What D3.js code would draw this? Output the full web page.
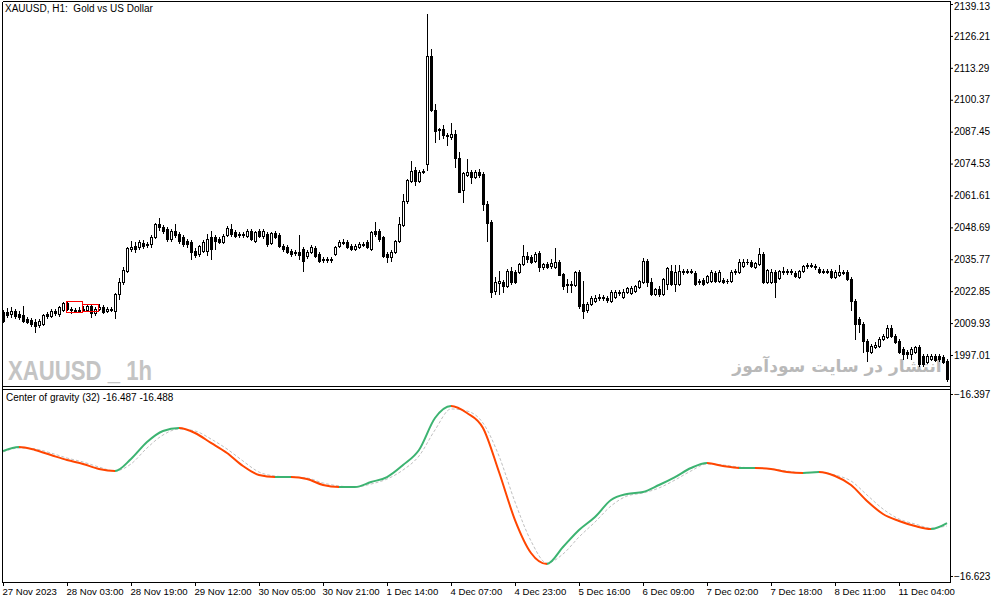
<!doctype html>
<html>
<head>
<meta charset="utf-8"/>
<title>XAUUSD, H1 - Center of gravity</title>
<script src="https://d3js.org/d3.v7.min.js"></script>
<style>
  body { margin:0; background:#fff; overflow:hidden; }
  svg text { font-family: "Liberation Sans", Arial, sans-serif; }
</style>
</head>
<body>
<div id="chart"></div>
<script>
// ---- data ----
var timeLabels = ["27 Nov 2023","28 Nov 03:00","28 Nov 19:00","29 Nov 12:00","30 Nov 05:00",
  "30 Nov 21:00","1 Dec 14:00","4 Dec 07:00","4 Dec 23:00","5 Dec 16:00","6 Dec 09:00",
  "7 Dec 02:00","7 Dec 18:00","8 Dec 11:00","11 Dec 04:00"];
var timeBars = [0,16,32,48,64,80,96,112,128,144,160,176,192,208,224];

var priceTicks = [2139.13,2126.21,2113.29,2100.37,2087.45,2074.53,2061.61,2048.69,2035.77,2022.85,2009.93,1997.01];
var cogTicks = [-16.397,-16.623];

// hourly candles: open, high, low, close
var candles = [
 [2014.4,2015.2,2010.3,2010.7],[2014.4,2016.0,2012.4,2013.2],[2013.6,2016.4,2012.4,2014.8],[2014.8,2015.6,2011.9,2012.8],
 [2013.6,2014.8,2011.5,2012.4],[2013.2,2016.8,2010.3,2010.7],[2011.5,2012.4,2009.9,2010.3],[2011.1,2012.0,2008.7,2009.5],
 [2010.3,2011.5,2006.3,2008.7],[2009.1,2011.5,2008.3,2010.7],[2009.5,2013.6,2009.1,2013.2],[2013.6,2014.4,2012.0,2012.8],
 [2012.8,2015.6,2012.4,2014.8],[2014.8,2015.6,2013.2,2014.0],[2013.6,2016.8,2012.8,2016.4],[2015.2,2018.4,2014.8,2018.0],
 [2018.0,2018.4,2015.2,2015.6],[2015.6,2016.4,2014.0,2015.2],[2015.2,2016.0,2014.4,2015.0],[2015.0,2016.4,2014.4,2015.2],
 [2015.2,2016.8,2014.8,2015.6],[2015.2,2017.6,2014.8,2016.8],[2016.8,2017.2,2012.4,2014.0],[2014.0,2016.4,2013.2,2015.6],
 [2015.6,2017.6,2015.2,2016.4],[2016.4,2017.2,2014.0,2014.4],[2015.0,2016.4,2014.4,2015.6],[2015.6,2016.4,2014.8,2015.2],
 [2014.8,2022.0,2011.9,2021.6],[2021.6,2028.0,2019.6,2026.5],[2026.5,2032.5,2025.7,2031.3],[2031.0,2040.6,2030.5,2040.2],
 [2040.0,2043.0,2039.0,2040.8],[2041.0,2042.6,2038.6,2039.8],[2040.6,2043.4,2039.8,2042.6],[2042.2,2043.4,2040.2,2041.0],
 [2041.6,2042.6,2040.6,2041.8],[2041.8,2045.4,2040.6,2044.6],[2044.6,2050.3,2044.2,2049.9],[2049.9,2052.3,2047.5,2048.7],
 [2048.7,2049.5,2046.3,2047.1],[2047.9,2048.7,2043.0,2043.8],[2043.8,2047.9,2043.0,2047.1],[2047.1,2049.9,2044.6,2045.5],
 [2045.9,2046.7,2042.2,2043.0],[2044.6,2045.5,2041.0,2041.8],[2043.0,2043.8,2040.6,2041.8],[2042.6,2043.4,2035.8,2038.6],
 [2039.0,2040.2,2036.6,2037.4],[2037.8,2041.4,2037.0,2041.0],[2039.0,2043.4,2038.6,2042.6],[2039.0,2045.9,2037.4,2043.8],
 [2044.6,2047.1,2035.8,2039.8],[2044.6,2045.5,2039.8,2043.0],[2043.8,2044.6,2042.2,2042.6],[2042.6,2045.9,2042.2,2045.1],
 [2045.5,2049.1,2045.1,2048.3],[2047.9,2049.9,2045.1,2045.9],[2046.7,2047.5,2044.6,2045.1],[2045.5,2046.7,2044.6,2045.9],
 [2045.9,2046.7,2044.6,2045.5],[2045.1,2047.9,2044.6,2047.1],[2047.1,2047.9,2043.4,2043.8],[2043.0,2047.1,2042.6,2046.7],
 [2047.1,2047.9,2044.6,2045.1],[2045.1,2047.9,2044.2,2047.1],[2045.9,2046.7,2041.0,2041.8],[2042.2,2046.7,2041.8,2046.3],
 [2046.3,2047.1,2044.2,2044.6],[2045.5,2046.3,2040.6,2041.0],[2041.0,2041.8,2039.0,2039.8],[2040.6,2041.4,2038.2,2038.6],
 [2039.0,2039.8,2037.0,2037.8],[2038.2,2039.4,2037.4,2038.6],[2038.6,2045.5,2035.8,2037.4],[2039.8,2040.6,2030.9,2035.0],
 [2037.0,2039.4,2036.2,2038.6],[2038.6,2041.4,2038.2,2040.6],[2040.2,2041.0,2036.6,2037.0],[2037.8,2038.6,2034.6,2035.0],
 [2035.4,2036.6,2034.6,2035.8],[2035.8,2036.6,2034.6,2035.4],[2035.4,2036.6,2034.6,2035.8],[2037.8,2041.0,2037.4,2040.6],
 [2041.0,2043.4,2040.6,2042.6],[2042.6,2043.8,2041.8,2042.2],[2042.6,2043.4,2040.2,2040.6],[2041.0,2041.8,2039.4,2039.8],
 [2039.8,2041.8,2039.4,2041.0],[2040.6,2042.6,2040.2,2041.8],[2041.8,2042.6,2041.0,2041.4],[2042.6,2043.4,2040.2,2040.6],
 [2039.8,2047.1,2039.4,2046.7],[2047.1,2050.7,2045.1,2045.9],[2047.1,2047.9,2043.0,2043.8],[2044.6,2045.1,2036.6,2037.0],
 [2037.8,2038.6,2034.6,2036.6],[2036.6,2039.4,2035.0,2038.6],[2038.6,2043.4,2038.2,2043.0],[2043.0,2052.7,2042.6,2049.9],
 [2049.5,2062.0,2049.1,2059.2],[2059.2,2068.1,2058.4,2067.7],[2067.3,2075.7,2066.9,2071.7],[2072.1,2073.3,2066.0,2067.3],
 [2067.3,2072.1,2066.9,2071.3],[2071.3,2072.5,2070.5,2071.7],[2074.5,2135.1,2072.1,2118.1],[2118.1,2121.0,2095.9,2096.3],
 [2096.3,2098.8,2083.4,2087.9],[2088.3,2089.1,2084.6,2088.7],[2088.7,2090.3,2085.0,2086.2],[2086.2,2087.0,2082.2,2085.8],
 [2085.4,2091.1,2084.6,2086.6],[2086.6,2088.2,2073.3,2076.9],[2076.9,2079.4,2063.0,2063.2],[2064.0,2071.3,2058.8,2070.9],
 [2069.7,2076.5,2069.3,2071.3],[2071.3,2072.1,2066.8,2068.9],[2068.9,2072.1,2068.5,2071.3],[2071.3,2072.5,2068.9,2069.7],
 [2070.1,2071.3,2055.9,2058.0],[2058.0,2059.2,2043.0,2050.3],[2050.7,2051.5,2020.4,2022.4],[2022.8,2028.5,2021.6,2026.5],
 [2026.1,2030.9,2021.6,2026.9],[2026.5,2027.3,2022.4,2024.9],[2024.9,2031.7,2024.5,2030.9],[2030.9,2032.5,2025.7,2026.5],
 [2030.5,2031.3,2026.1,2026.5],[2030.5,2034.2,2030.1,2033.8],[2033.8,2041.4,2033.4,2037.0],[2037.0,2038.6,2034.6,2035.8],
 [2036.6,2037.4,2034.2,2034.6],[2035.0,2038.6,2034.6,2037.8],[2038.2,2039.0,2031.0,2032.5],[2032.5,2034.2,2031.7,2033.8],
 [2033.8,2034.6,2032.1,2032.5],[2032.9,2035.8,2032.1,2034.2],[2032.5,2040.2,2032.1,2034.6],[2034.6,2035.4,2029.3,2029.3],
 [2029.7,2030.1,2023.7,2024.9],[2025.3,2027.7,2022.4,2025.7],[2025.7,2026.9,2022.4,2025.3],[2025.3,2030.9,2024.9,2030.5],
 [2030.5,2031.3,2016.0,2016.8],[2017.6,2026.9,2011.9,2014.8],[2015.2,2018.4,2014.4,2017.6],[2017.6,2020.8,2017.2,2020.0],
 [2018.8,2021.2,2018.4,2020.0],[2020.0,2021.6,2019.2,2020.4],[2020.4,2021.2,2019.2,2020.0],[2020.0,2020.8,2018.4,2019.2],
 [2018.8,2023.3,2018.4,2022.4],[2020.4,2023.3,2020.0,2022.4],[2022.4,2023.3,2021.2,2022.0],[2020.4,2023.7,2020.0,2022.4],
 [2022.4,2024.5,2022.0,2024.1],[2022.0,2024.9,2021.6,2024.1],[2022.8,2025.3,2022.4,2024.9],[2024.5,2027.3,2024.1,2026.9],
 [2026.5,2036.2,2026.1,2034.9],[2034.9,2035.8,2024.9,2026.5],[2026.5,2028.1,2021.2,2021.6],[2021.6,2024.1,2021.2,2023.7],
 [2023.7,2024.9,2020.8,2021.6],[2021.6,2028.1,2021.2,2027.7],[2025.7,2032.5,2023.7,2032.1],[2030.9,2033.3,2025.3,2025.7],
 [2025.7,2033.3,2022.8,2030.5],[2025.7,2033.3,2025.3,2030.9],[2030.5,2031.7,2029.7,2030.9],[2030.9,2031.7,2030.1,2030.5],
 [2030.5,2031.7,2030.1,2030.9],[2030.1,2030.9,2025.3,2025.7],[2026.5,2027.7,2025.7,2026.9],[2027.3,2028.1,2025.3,2025.7],
 [2026.5,2029.3,2026.1,2028.9],[2026.9,2031.3,2026.5,2030.5],[2030.1,2030.9,2026.5,2026.9],[2026.9,2031.3,2026.5,2030.5],
 [2027.3,2028.1,2026.1,2026.5],[2026.9,2027.7,2026.1,2026.9],[2026.9,2031.3,2026.5,2030.5],[2030.5,2031.7,2029.7,2030.9],
 [2030.5,2035.8,2030.1,2034.6],[2032.9,2035.8,2032.5,2034.6],[2034.6,2035.8,2033.8,2034.6],[2034.6,2035.4,2032.5,2032.9],
 [2032.5,2034.6,2032.1,2034.2],[2033.8,2040.2,2033.4,2037.8],[2037.8,2038.6,2026.1,2026.5],[2026.5,2031.7,2026.1,2031.3],
 [2026.5,2031.7,2026.1,2030.5],[2030.5,2031.3,2020.4,2026.5],[2028.1,2031.3,2027.7,2030.9],[2030.5,2032.5,2029.7,2030.9],
 [2030.9,2031.7,2029.7,2030.5],[2030.5,2031.7,2029.7,2030.9],[2030.1,2030.9,2028.5,2028.9],[2028.5,2031.3,2028.1,2030.9],
 [2030.9,2033.3,2030.5,2032.9],[2032.9,2034.2,2032.1,2033.3],[2033.3,2034.2,2032.5,2032.9],[2032.5,2033.8,2031.7,2032.9],
 [2031.7,2032.5,2030.1,2030.5],[2030.9,2031.7,2030.1,2030.5],[2030.5,2031.7,2030.1,2030.9],[2030.9,2031.7,2028.1,2028.5],
 [2028.5,2031.3,2028.1,2030.5],[2029.3,2033.3,2028.9,2030.5],[2030.5,2031.3,2029.7,2030.1],[2030.5,2031.3,2027.3,2027.7],
 [2027.7,2028.5,2015.2,2018.8],[2018.8,2019.6,2003.5,2009.5],[2011.5,2012.4,2006.3,2009.5],[2009.5,2010.3,1998.2,2002.7],
 [2002.7,2003.5,1994.6,1998.6],[1998.2,2001.4,1997.8,2000.7],[2000.2,2002.3,1999.8,2001.0],[2000.7,2004.3,2000.2,2003.5],
 [2003.5,2005.5,2003.1,2004.7],[2004.3,2009.1,2003.9,2007.9],[2007.9,2009.1,2004.3,2004.7],[2004.7,2005.5,2001.8,2002.3],
 [2002.7,2003.5,1997.8,1998.2],[1999.4,2000.2,1995.4,1997.4],[1998.2,1999.0,1995.8,1997.4],[1997.4,2000.2,1995.4,1999.4],
 [1998.2,2000.7,1997.8,2000.2],[2000.2,2001.0,1992.6,1993.4],[1996.6,1997.4,1992.6,1993.4],[1994.2,1997.4,1993.8,1996.6],
 [1995.4,1997.4,1995.0,1996.6],[1996.6,1997.4,1994.6,1995.0],[1996.6,1997.4,1994.6,1995.4],[1996.2,1997.0,1993.8,1994.2],
 [1994.6,1995.4,1986.5,1987.3]
];

// red boxes drawn on the chart around 28 Nov
var boxFrom = [16, 20];
var boxTo = [20, 24];
var boxTop = [2018.8, 2017.6];
var boxBottom = [2014.4, 2014.8];

// Center of gravity (32) and its signal, sampled along the bars
var cogBars = [0,4,8,12,16,20,24,28,32,36,40,44,48,52,56,60,64,68,72,76,80,84,88,92,96,100,104,108,112,116,
  120,124,128,132,136,140,144,148,152,156,160,164,168,172,176,180,184,188,192,196,200,204,208,212,216,220,224,228,232,236];
var cogValues = [-16.4678,-16.4628,-16.4665,-16.4728,-16.4790,-16.4839,-16.4901,-16.4926,-16.4777,-16.4566,
  -16.4429,-16.4392,-16.4454,-16.4578,-16.4703,-16.4864,-16.4976,-16.5001,-16.5001,-16.5026,
  -16.5100,-16.5125,-16.5125,-16.5063,-16.5001,-16.4852,-16.4665,-16.4268,-16.4119,-16.4206,
  -16.4392,-16.4939,-16.5535,-16.5944,-16.6081,-16.5870,-16.5659,-16.5497,-16.5286,-16.5212,
  -16.5187,-16.5100,-16.5001,-16.4889,-16.4827,-16.4864,-16.4889,-16.4889,-16.4901,-16.4939,
  -16.4951,-16.4939,-16.4988,-16.5100,-16.5299,-16.5460,-16.5547,-16.5609,-16.5646,-16.5572];
var signalValues = [-16.4690,-16.4641,-16.4653,-16.4703,-16.4765,-16.4814,-16.4877,-16.4926,-16.4839,-16.4641,
  -16.4479,-16.4405,-16.4429,-16.4529,-16.4653,-16.4802,-16.4939,-16.4988,-16.5001,-16.5013,
  -16.5075,-16.5112,-16.5125,-16.5088,-16.5026,-16.4914,-16.4740,-16.4417,-16.4156,-16.4181,
  -16.4330,-16.4740,-16.5311,-16.5795,-16.6069,-16.5957,-16.5746,-16.5560,-16.5361,-16.5237,
  -16.5199,-16.5137,-16.5038,-16.4926,-16.4839,-16.4852,-16.4877,-16.4889,-16.4901,-16.4926,
  -16.4951,-16.4939,-16.4976,-16.5050,-16.5224,-16.5398,-16.5522,-16.5584,-16.5634,-16.5609];

var titleText = "XAUUSD, H1:  Gold vs US Dollar";
var cogLabel = "Center of gravity (32) -16.487 -16.488";

// ---- drawing ----
var W = 1003, H = 603;
var esq = 2, dir = 950, topo = 1, fundoMain = 386, topoSub = 389, fundo = 582;

var svg = d3.select("#chart").append("svg")
  .attr("width", W).attr("height", H)
  .style("display", "block");

var xs = d3.scaleLinear().domain([0, candles.length - 1]).range([3, 947]);
var ys = d3.scaleLinear().domain([1997.01, 2139.13]).range([355, 4]);
var yc = d3.scaleLinear().domain([-16.623, -16.397]).range([576, 394]);

var defs = svg.append("defs");
defs.append("clipPath").attr("id", "clipMain").append("rect")
  .attr("x", esq + 1).attr("y", topo + 1).attr("width", dir - esq - 1).attr("height", fundoMain - topo - 1);
defs.append("clipPath").attr("id", "clipSub").append("rect")
  .attr("x", esq + 1).attr("y", topoSub + 1).attr("width", dir - esq - 1).attr("height", fundo - topoSub - 1);

// watermarks
svg.append("text")
  .attr("x", 8).attr("y", 380)
  .attr("textLength", 144).attr("lengthAdjust", "spacingAndGlyphs")
  .style("font-size", "28px").style("font-weight", "bold")
  .style("fill", "#c4c4c4")
  .text("XAUUSD _ 1h");

svg.append("text")
  .attr("x", 837).attr("y", 372)
  .attr("text-anchor", "middle")
  .style("font-family", "'DejaVu Sans', sans-serif")
  .style("font-size", "17px").style("font-weight", "bold")
  .style("fill", "#b9b9b9")
  .text("انتشار در سایت سودآموز");

// candles
var gMain = svg.append("g").attr("clip-path", "url(#clipMain)").attr("shape-rendering", "crispEdges");

function Vela(d, i) {
  var cx = Math.round(xs(i));
  var yo = Math.round(ys(d[0])), yh = Math.round(ys(d[1])), yl = Math.round(ys(d[2])), ycl = Math.round(ys(d[3]));
  gMain.append("rect").attr("x", cx).attr("y", yh).attr("width", 1).attr("height", Math.max(1, yl - yh + 1))
    .attr("fill", "#000");
  var yTop = Math.min(yo, ycl), yBot = Math.max(yo, ycl);
  if (yBot - yTop < 2 || d[3] < d[0]) {
    // bearish body or doji
    gMain.append("rect").attr("x", cx - 1).attr("y", yTop).attr("width", 3).attr("height", yBot - yTop + 1)
      .attr("fill", "#000");
  } else {
    gMain.append("rect").attr("x", cx - 0.5).attr("y", yTop + 0.5).attr("width", 2).attr("height", yBot - yTop)
      .attr("fill", "#fff").attr("stroke", "#000").attr("stroke-width", 1);
  }
}
candles.forEach(Vela);

// red boxes
boxFrom.forEach(function (b, k) {
  var x0 = Math.round(xs(b)) - 1, x1 = Math.round(xs(boxTo[k])) - 1;
  gMain.append("rect")
    .attr("x", x0 + 0.5).attr("y", Math.round(ys(boxTop[k])) + 0.5)
    .attr("width", x1 - x0).attr("height", Math.round(ys(boxBottom[k])) - Math.round(ys(boxTop[k])))
    .attr("fill", "none").attr("stroke", "#ff0000").attr("stroke-width", 1);
});

// indicator
var gSub = svg.append("g").attr("clip-path", "url(#clipSub)");
var pts = cogBars.map(function (b, k) { return [xs(b), yc(cogValues[k])]; });
var sig = cogBars.map(function (b, k) { return [xs(b), yc(signalValues[k])]; });
var linha = d3.line().curve(d3.curveMonotoneX);

gSub.append("path").attr("d", linha(sig))
  .attr("fill", "none").attr("stroke", "#c0c0c0").attr("stroke-width", 1)
  .attr("stroke-dasharray", "3,2");

// colour the COG by direction: rising green, falling orange-red
var grad = defs.append("linearGradient")
  .attr("id", "cogGrad").attr("gradientUnits", "userSpaceOnUse")
  .attr("x1", pts[0][0]).attr("y1", 0).attr("x2", pts[pts.length - 1][0]).attr("y2", 0);
var span = pts[pts.length - 1][0] - pts[0][0];
for (var k = 0; k < cogValues.length - 1; k++) {
  var cor = cogValues[k + 1] >= cogValues[k] ? "#3cb371" : "#ff4500";
  grad.append("stop").attr("offset", (pts[k][0] - pts[0][0]) / span).attr("stop-color", cor);
  grad.append("stop").attr("offset", (pts[k + 1][0] - pts[0][0]) / span).attr("stop-color", cor);
}
gSub.append("path").attr("d", linha(pts))
  .attr("fill", "none").attr("stroke", "url(#cogGrad)").attr("stroke-width", 2);

// frames
var frame = svg.append("g").attr("stroke", "#000").attr("stroke-width", 1).attr("shape-rendering", "crispEdges");
frame.append("line").attr("x1", esq + 0.5).attr("x2", dir + 0.5).attr("y1", topo + 0.5).attr("y2", topo + 0.5);
frame.append("line").attr("x1", esq + 0.5).attr("x2", esq + 0.5).attr("y1", topo + 0.5).attr("y2", fundo + 0.5);
frame.append("line").attr("x1", dir + 0.5).attr("x2", dir + 0.5).attr("y1", topo + 0.5).attr("y2", fundo + 0.5);
frame.append("line").attr("x1", esq + 0.5).attr("x2", dir + 0.5).attr("y1", fundoMain + 0.5).attr("y2", fundoMain + 0.5);
frame.append("line").attr("x1", esq + 0.5).attr("x2", dir + 0.5).attr("y1", topoSub + 0.5).attr("y2", topoSub + 0.5);
frame.append("line").attr("x1", esq + 0.5).attr("x2", dir + 0.5).attr("y1", fundo + 0.5).attr("y2", fundo + 0.5);

// axes
var eixoY = svg.append("g").attr("transform", "translate(" + dir + ",0)")
  .call(d3.axisRight(ys).tickValues(priceTicks).tickSize(3).tickPadding(1).tickFormat(d3.format(".2f")));
var eixoC = svg.append("g").attr("transform", "translate(" + dir + ",0)")
  .call(d3.axisRight(yc).tickValues(cogTicks).tickSize(3).tickPadding(1).tickFormat(d3.format(".3f")));
var eixoX = svg.append("g").attr("transform", "translate(0," + fundo + ")")
  .call(d3.axisBottom(xs).tickValues(timeBars).tickSize(4).tickPadding(2)
    .tickFormat(function (d, i) { return timeLabels[i]; }));

[eixoY, eixoC, eixoX].forEach(function (g) {
  g.select(".domain").remove();
  g.selectAll("text").style("font-size", "10px").attr("fill", "#000");
  g.selectAll("line").attr("stroke", "#000");
});
eixoX.selectAll("text").attr("text-anchor", "start").attr("x", -1).style("font-size", "9.6px");
eixoY.selectAll(".tick").filter(function (d) { return d === priceTicks[0]; })
  .select("text").attr("dy", "0.55em");

// texts
svg.append("text").attr("x", 5).attr("y", 12)
  .style("font-size", "10px").style("white-space", "pre").attr("fill", "#000")
  .text(titleText);
svg.append("text").attr("x", 6).attr("y", 401)
  .style("font-size", "10px").attr("fill", "#000")
  .text(cogLabel);
</script>
</body>
</html>
